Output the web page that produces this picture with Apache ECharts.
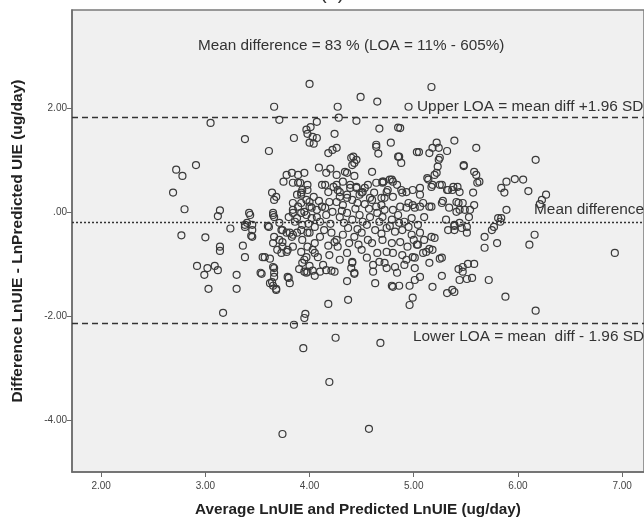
<!DOCTYPE html>
<html>
<head>
<meta charset="utf-8">
<script src="https://cdn.jsdelivr.net/npm/echarts@6/dist/echarts.min.js"></script>
<style>
  html, body { margin: 0; padding: 0; background: #ffffff; }
  #chart { width: 644px; height: 522px; }
</style>
</head>
<body>
<div id="chart"></div>
<script>
// ---- data ----
const points = [
  [4.00,2.46],[3.66,2.02],[3.71,1.77],[3.05,1.71],[3.38,1.40],[3.61,1.17],[3.85,1.42],
  [3.97,1.58],[4.01,1.63],[4.07,1.73],[3.98,1.50],[4.03,1.44],[4.04,1.31],[4.07,1.42],
  [2.91,0.90],[2.72,0.81],[2.78,0.69],[2.69,0.37],[2.80,0.05],[2.77,-0.45],[3.00,-0.49],
  [3.14,0.03],[3.12,-0.08],[3.24,-0.32],[3.14,-0.67],[3.14,-0.75],
  [3.43,-0.06],[3.40,-0.21],[3.38,-0.29],[3.45,-0.35],[3.45,-0.48],[3.36,-0.65],[3.38,-0.87],[3.55,-0.87],
  [3.61,-0.29],[3.66,-0.10],[3.64,0.37],[3.66,0.23],[3.68,0.29],[3.75,0.58],
  [3.78,0.71],[3.83,0.75],[3.84,0.56],[3.89,0.56],[3.92,0.33],[3.98,0.42],
  [5.17,2.40],[4.49,2.21],[4.65,2.12],[4.95,2.02],[4.27,2.02],[4.28,1.81],[4.45,1.75],[4.24,1.50],
  [4.67,1.60],[4.87,1.61],[4.78,1.33],[4.64,1.25],[4.66,1.12],[4.18,1.13],[4.26,1.23],
  [5.05,1.15],[5.15,1.13],[5.22,1.33],[5.32,1.17],[5.39,1.37],[5.24,1.23],[5.60,1.23],[6.17,1.00],
  [4.42,1.06],[4.43,0.94],[4.86,1.06],[4.88,0.94],[5.24,1.00],[5.22,0.75],[5.48,0.88],[5.58,0.77],[5.63,0.58],
  [5.89,0.58],[5.97,0.63],[6.05,0.62],[5.84,0.46],[5.87,0.37],[6.10,0.40],[6.27,0.33],[6.23,0.23],[6.21,0.15],
  [4.60,0.77],[4.71,0.58],[4.79,0.62],[4.16,0.75],[4.34,0.77],[4.39,0.52],
  [5.14,0.62],[5.17,0.48],[5.27,0.52],[5.32,0.42],[5.38,0.48],
  [5.43,0.17],[5.49,0.04],[5.58,0.13],[5.53,-0.10],
  [5.89,0.04],[5.84,-0.12],[5.77,-0.29],[5.75,-0.35],[5.68,-0.48],[5.68,-0.69],[5.80,-0.60],[6.16,-0.44],[6.11,-0.63],[6.93,-0.79],
  [5.33,-0.35],[5.39,-0.35],[5.46,-0.31],[5.20,-0.50],
  [5.81,-0.12],[5.83,-0.19],[5.51,-0.40],[5.39,-0.27],
  [5.04,-0.63],[5.12,-0.77],[5.15,-0.71],[5.01,-0.88],[4.93,-0.92],[5.25,-0.90],
  [5.43,-1.10],[5.47,-1.06],[5.52,-1.00],[5.58,-1.00],[5.47,-1.15],
  [5.44,-1.31],[5.51,-1.29],[5.56,-1.27],[5.72,-1.31],
  [5.27,-1.23],[5.18,-1.44],[5.06,-1.25],[5.01,-1.31],[4.96,-1.42],[4.99,-1.65],[4.96,-1.79],
  [5.32,-1.56],[5.37,-1.50],[5.39,-1.54],[5.88,-1.63],[6.17,-1.90],
  [4.25,-2.42],[4.68,-2.52],[4.19,-3.27],[4.57,-4.17],
  [4.86,-1.42],[4.79,-1.42],[4.63,-1.37],[4.18,-1.77],[4.37,-1.69],[4.36,-1.33],[4.43,-1.19],[4.40,-1.08],[4.21,-1.13],
  [2.92,-1.04],[2.99,-1.21],[3.02,-1.08],[3.09,-1.04],[3.12,-1.12],[3.03,-1.48],[3.30,-1.21],[3.30,-1.48],[3.17,-1.94],
  [3.54,-1.19],[3.62,-1.37],[3.65,-1.42],[3.68,-1.50],[3.66,-1.25],[3.66,-1.08],[3.80,-1.27],[3.81,-1.37],
  [3.90,-1.10],[3.97,-1.17],[4.03,-1.13],[4.05,-1.23],[3.96,-1.96],[3.95,-2.04],[3.85,-2.17],[3.94,-2.62],[3.74,-4.27],
  [3.38,-0.25],[3.45,-0.25],[3.44,-0.46],
  [3.65,-0.06],[3.60,-0.27],[3.71,-0.21],[3.66,-0.48],[3.65,-0.60],[3.74,-0.58],[3.73,-0.79],[3.79,-0.73],[3.81,-0.40],[3.74,-0.35],[3.84,-0.44],
  [3.57,-0.87],[3.62,-0.90],[3.53,-1.17],[3.65,-1.06],[3.66,-1.17],[3.64,-1.35],[3.68,-1.48],[3.79,-1.25],
  [3.95,-1.15],[3.98,-1.15],[4.10,-1.15],[4.16,-1.12],[4.24,-1.15],[4.00,-1.04],
  [3.93,-0.98],[3.97,-0.87],[4.05,-0.79],
  [4.43,-1.17],[4.41,-0.98],
  [4.80,-1.44],[4.84,-1.17],[4.74,-1.08],[4.61,-1.15],[4.67,-0.96],
  [4.85,1.62],[4.85,1.06],
  [4.09,0.85],[4.20,0.83],[4.26,0.71],[4.36,0.75],[4.40,1.04],[4.41,0.90],[4.43,0.69],
  [3.89,0.71],[3.95,0.75],[3.91,0.56],[3.98,0.52],
  [4.15,0.52],[4.18,0.38],[4.26,0.52],[4.32,0.58],[4.29,0.38],[4.45,0.46],[4.51,0.38],[4.56,0.52],[4.64,0.56],[4.70,0.58],[4.75,0.42],[4.80,0.58],[4.84,0.52],[4.72,0.27],[4.60,0.23],[4.64,0.10],
  [3.93,0.42],[3.92,0.37],[4.00,0.19],[3.92,0.17],[4.02,0.08],[3.84,0.04],[3.89,0.10],
  [4.15,0.08],[4.19,0.19],[4.26,0.19],[4.32,0.13],[4.36,0.27],[4.41,0.23],[4.46,0.17],[4.48,0.33],
  [5.03,1.15],[5.18,1.23],[5.25,1.04],[5.23,0.87],[5.20,0.71],
  [5.48,0.90],[5.60,0.71],[5.61,0.56],
  [5.13,0.65],[5.18,0.52],[5.25,0.52],[5.33,0.42],[5.42,0.48],[5.37,0.42],[5.44,0.38],[5.06,0.46],[4.99,0.42],[4.93,0.38],[4.88,0.42],
  [5.57,0.37],[5.47,0.17],[5.41,0.19],[5.28,0.21],[5.17,0.10],[5.06,0.10],[4.99,0.13],[4.93,0.08],[5.44,0.04],[5.54,0.04],
  [4.00,1.33],[4.22,1.19],[4.45,1.00],[4.64,1.29],
  [3.88,0.33],[3.97,0.23],
  [4.12,0.52],[4.23,0.48],[4.27,0.42],[4.29,0.29],[4.36,0.33],[4.39,0.46],[4.45,0.48],[4.50,0.37],[4.53,0.46],[4.58,0.27],[4.62,0.37],
  [3.84,0.17],[3.95,0.00],[4.00,0.10],[4.07,0.04],[4.12,0.10],[4.16,-0.06],[4.22,0.00],[4.29,-0.10],[4.36,-0.02],[4.41,-0.15],[4.48,-0.06],[4.51,-0.19],[4.58,-0.10],[4.65,-0.02],
  [3.86,-0.19],[3.93,-0.25],[3.98,-0.40],[4.05,-0.29],[4.10,-0.48],[4.14,-0.35],[4.21,-0.40],[4.26,-0.54],[4.32,-0.44],[4.37,-0.31],[4.43,-0.48],[4.50,-0.40],[4.56,-0.54],[4.63,-0.35],
  [3.84,-0.67],[3.92,-0.77],[3.95,-0.92],[4.03,-0.73],[4.08,-0.87],[4.13,-1.02],[4.19,-0.83],[4.27,-0.67],[4.29,-0.92],[4.36,-0.79],[4.41,-0.96],[4.50,-0.73],[4.55,-0.88],[4.61,-1.02],[4.65,-0.79],
  [4.70,0.56],[4.77,0.62],[4.74,0.38],[4.69,0.27],[4.80,0.29],[4.89,0.37],[5.06,0.33],[5.09,0.17],[5.01,0.08],[4.95,0.17],[4.87,0.10],[4.80,0.04],[4.72,0.04],
  [5.15,0.10],[5.27,0.17],[5.34,0.08],[5.41,0.00],[5.31,-0.15],[5.39,-0.25],[5.44,-0.21],[5.51,-0.29],
  [4.70,-0.10],[4.79,-0.15],[4.85,-0.06],[4.91,-0.19],[4.98,-0.12],[5.04,-0.25],[5.10,-0.10],[4.74,-0.31],[4.82,-0.38],[4.89,-0.35],[4.98,-0.44],[5.06,-0.40],
  [4.70,-0.54],[4.79,-0.60],[4.87,-0.58],[4.94,-0.67],[5.03,-0.63],[5.10,-0.54],[5.17,-0.48],[5.18,-0.73],[5.09,-0.79],[4.99,-0.87],[4.89,-0.83],[4.80,-0.79],[4.74,-0.77],
  [4.72,-0.98],[4.82,-1.06],[4.91,-1.02],[5.01,-1.08],[5.27,-0.88],[5.15,-0.98],
  [3.80,-0.10],[3.84,-0.02],[3.88,-0.12],[3.92,-0.02],[3.97,-0.06],[4.02,-0.12],[4.07,-0.10],
  [3.73,-0.35],[3.78,-0.40],[3.83,-0.48],[3.88,-0.40],[3.92,-0.35],[3.93,-0.54],[4.00,-0.40],[3.98,-0.67],[4.05,-0.60],
  [3.71,-0.54],[3.74,-0.67],[3.78,-0.77],[3.69,-0.73],
  [3.42,-0.02],[3.65,-0.02],
  [4.04,0.29],[4.09,0.21],[4.20,-0.23],[4.33,-0.21],[4.46,-0.33],[4.55,-0.25],[4.67,-0.19],[4.24,-0.58],
  [4.38,-0.60],[4.47,-0.63],[4.60,-0.60],[4.69,-0.42],[4.77,-0.27],[4.86,-0.21],[4.57,0.06],[4.44,0.06],
  [4.31,0.02],[4.10,-0.19],[3.99,-0.23],[4.18,-0.65],[4.53,0.15],[4.69,0.13],[4.95,-0.29],[5.00,-0.54]
];

const upperLOA = 1.81;
const meanDiff = -0.19;
const lowerLOA = -2.15;

const xTicks = [2, 3, 4, 5, 6, 7];
const yTicks = [-4, -2, 0, 2];
const xTickLabels = ['2.00', '3.00', '4.00', '5.00', '6.00', '7.00'];
const yTickLabels = ['-4.00', '-2.00', '.00', '2.00'];

const xRange = [1.72, 7.21];
const yRange = [-5.0, 3.88];

// ---- chart ----
const chart = echarts.init(document.getElementById('chart'), null, { renderer: 'canvas' });
const FONT = 'Liberation Sans, Arial, sans-serif';

function fmt(ticks, labels) {
  return function (v) {
    for (let i = 0; i < ticks.length; i++) {
      if (Math.abs(ticks[i] - v) < 1e-6) return labels[i];
    }
    return '';
  };
}

const lineStyleBase = { color: '#333333', width: 1.4 };

chart.setOption({
  backgroundColor: '#ffffff',
  animation: false,
  grid: {
    left: 72, right: 0, top: 10, bottom: 50,
    show: true,
    backgroundColor: '#f0f0f0',
    borderColor: '#7a7a7a',
    borderWidth: 1.5
  },
  xAxis: {
    type: 'value',
    min: xRange[0], max: xRange[1],
    name: 'Average LnUIE and Predicted LnUIE (ug/day)',
    nameLocation: 'middle',
    nameGap: 30,
    nameTextStyle: { fontFamily: FONT, fontWeight: 'bold', fontSize: 15.3, color: '#222' },
    axisLine: { show: true, onZero: false, lineStyle: { color: '#6a6a6a', width: 1.5 } },
    axisTick: { show: true, length: 5, customValues: xTicks, lineStyle: { color: '#6a6a6a', width: 1 } },
    axisLabel: { show: true, customValues: xTicks, formatter: fmt(xTicks, xTickLabels),
      fontFamily: FONT, fontSize: 10, color: '#444', margin: 9 },
    splitLine: { show: false }
  },
  yAxis: {
    type: 'value',
    min: yRange[0], max: yRange[1],
    name: 'Difference LnUIE - LnPredicted UIE (ug/day)',
    nameLocation: 'middle',
    nameGap: 46,
    nameTextStyle: { fontFamily: FONT, fontWeight: 'bold', fontSize: 15.5, color: '#222' },
    axisLine: { show: true, onZero: false, lineStyle: { color: '#6a6a6a', width: 1.5 } },
    axisTick: { show: true, length: 5, customValues: yTicks, lineStyle: { color: '#6a6a6a', width: 1 } },
    axisLabel: { show: true, customValues: yTicks, formatter: fmt(yTicks, yTickLabels),
      fontFamily: FONT, fontSize: 10, color: '#444', margin: 5 },
    splitLine: { show: false }
  },
  graphic: [
    { type: 'text', left: 320, top: -17, style: { text: '(a)', font: '20px ' + FONT, fill: '#333' } },
    { type: 'text', left: 198, top: 38, style: { text: 'Mean difference = 83 % (LOA = 11% - 605%)', font: '15.3px ' + FONT, fill: '#333' } },
    { type: 'text', left: 417, top: 99, style: { text: 'Upper LOA = mean diff +1.96 SD', font: '15.4px ' + FONT, fill: '#333' } },
    { type: 'text', left: 534, top: 202, style: { text: 'Mean difference', font: '15.4px ' + FONT, fill: '#333' } },
    { type: 'text', left: 413, top: 329, style: { text: 'Lower LOA = mean  diff - 1.96 SD', font: '15.4px ' + FONT, fill: '#333' } }
  ],
  series: [
    {
      type: 'scatter',
      data: points,
      symbol: 'circle',
      symbolSize: 7,
      itemStyle: { color: 'rgba(0,0,0,0)', borderColor: '#3a3a3a', borderWidth: 1.2, opacity: 1 },
      emphasis: { disabled: true },
      markLine: {
        silent: true,
        symbol: ['none', 'none'],
        label: { show: false },
        data: [
          { yAxis: upperLOA, lineStyle: Object.assign({}, lineStyleBase, { type: [6, 4] }) },
          { yAxis: meanDiff, lineStyle: Object.assign({}, lineStyleBase, { type: [2, 2] }) },
          { yAxis: lowerLOA, lineStyle: Object.assign({}, lineStyleBase, { type: [6, 4] }) }
        ]
      },
      z: 3
    }
  ]
});
</script>
</body>
</html>
